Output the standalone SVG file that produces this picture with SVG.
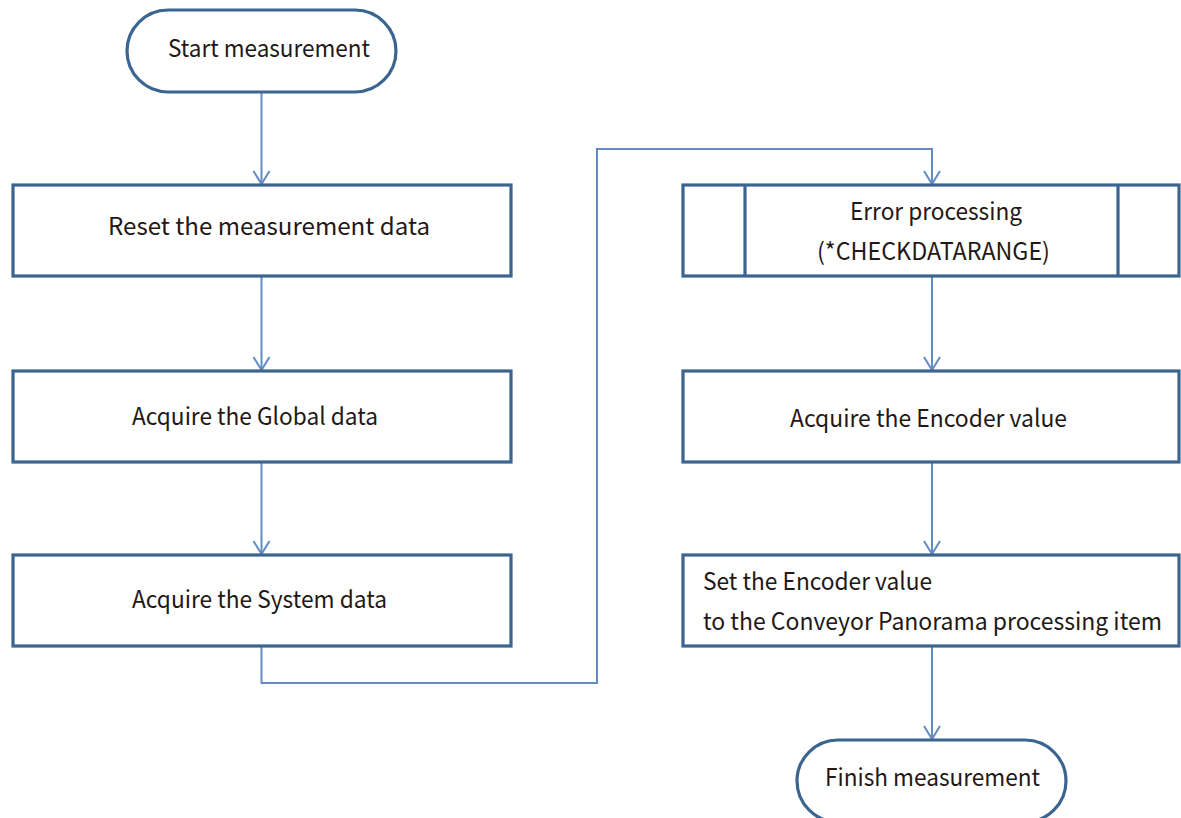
<svg xmlns="http://www.w3.org/2000/svg" width="1181" height="818" viewBox="0 0 1181 818">
  <defs>
    <style>
      .node { fill: #ffffff; stroke: #3b6490; stroke-width: 3.2; }
      .sub { fill: none; stroke: #3b6490; stroke-width: 3.2; }
      .edge { fill: none; stroke: #638dc2; stroke-width: 2; }
      .label { font-family: "Noto Sans CJK JP", "Noto Sans", sans-serif; font-size: 24px; fill: #231815; }
    </style>
    <marker id="arrow" viewBox="0 0 20 20" refX="18" refY="10" markerWidth="20" markerHeight="20" markerUnits="userSpaceOnUse" orient="auto">
      <path d="M5,2 L18,10 L5,18" fill="none" stroke="#638dc2" stroke-width="2"/>
    </marker>
  </defs>

  <rect width="1181" height="818" fill="#ffffff"/>

  <!-- connectors -->
  <g id="connectors">
    <path class="edge" d="M261.5,93 V184" marker-end="url(#arrow)"/>
    <path class="edge" d="M261.5,277 V370" marker-end="url(#arrow)"/>
    <path class="edge" d="M261.5,463 V554" marker-end="url(#arrow)"/>
    <path class="edge" d="M261.5,647 V683 H597 V149 H932 V184" marker-end="url(#arrow)"/>
    <path class="edge" d="M932,277 V370" marker-end="url(#arrow)"/>
    <path class="edge" d="M932,463 V554" marker-end="url(#arrow)"/>
    <path class="edge" d="M932,647 V739" marker-end="url(#arrow)"/>
  </g>

  <!-- start terminal -->
  <g id="start">
    <rect class="node" x="127" y="10" width="269" height="82" rx="41" ry="41"/>
    <text class="label" x="168" y="57" textLength="202" lengthAdjust="spacingAndGlyphs">Start measurement</text>
  </g>

  <g id="reset">
    <rect class="node" x="13" y="185" width="498" height="91"/>
    <text class="label" x="108" y="235" textLength="322" lengthAdjust="spacingAndGlyphs">Reset the measurement data</text>
  </g>

  <g id="global">
    <rect class="node" x="13" y="371" width="498" height="91"/>
    <text class="label" x="132" y="425" textLength="246" lengthAdjust="spacingAndGlyphs">Acquire the Global data</text>
  </g>

  <g id="system">
    <rect class="node" x="13" y="555" width="498" height="91"/>
    <text class="label" x="132" y="608" textLength="255" lengthAdjust="spacingAndGlyphs">Acquire the System data</text>
  </g>

  <!-- predefined process -->
  <g id="error">
    <rect class="node" x="683" y="185" width="496" height="91"/>
    <line class="sub" x1="745" y1="185" x2="745" y2="276"/>
    <line class="sub" x1="1118" y1="185" x2="1118" y2="276"/>
    <text class="label" x="850" y="220" textLength="172" lengthAdjust="spacingAndGlyphs">Error processing</text>
    <text class="label" x="817" y="260" textLength="233" lengthAdjust="spacingAndGlyphs">(*CHECKDATARANGE)</text>
  </g>

  <g id="encoder">
    <rect class="node" x="683" y="371" width="496" height="91"/>
    <text class="label" x="790" y="427" textLength="277" lengthAdjust="spacingAndGlyphs">Acquire the Encoder value</text>
  </g>

  <g id="set">
    <rect class="node" x="683" y="555" width="496" height="91"/>
    <text class="label" x="703" y="590" textLength="229" lengthAdjust="spacingAndGlyphs">Set the Encoder value</text>
    <text class="label" x="703" y="630" textLength="459" lengthAdjust="spacingAndGlyphs">to the Conveyor Panorama processing item</text>
  </g>

  <!-- end terminal -->
  <g id="finish">
    <rect class="node" x="797" y="740" width="269" height="82" rx="41" ry="41"/>
    <text class="label" x="825" y="786" textLength="215" lengthAdjust="spacingAndGlyphs">Finish measurement</text>
  </g>
</svg>
